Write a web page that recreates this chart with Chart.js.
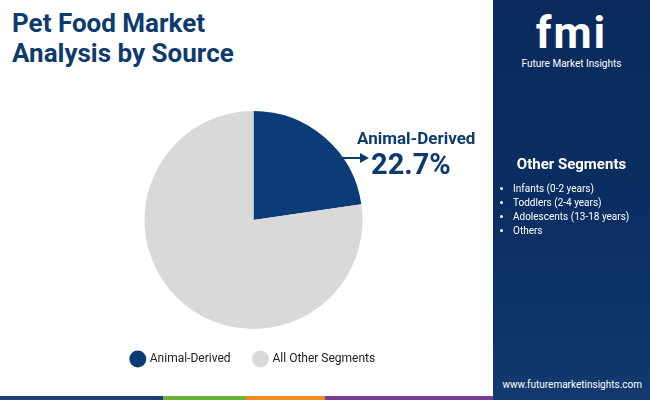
<!DOCTYPE html>
<html>
<head>
<meta charset="utf-8">
<script src="https://cdn.jsdelivr.net/npm/chart.js@4.4.0/dist/chart.umd.min.js"></script>
<style>
  body { margin: 0; width: 650px; height: 400px; overflow: hidden; font-family: Roboto, sans-serif; background: #fff; position: relative; }
  #title { position: absolute; left: 12px; top: 8px; color: #0d3b6e; font-weight: 700; font-size: 26px; line-height: 30px; }
  #chartBox { position: absolute; left: 0; top: 95px; width: 493px; height: 280px; }
  #side { position: absolute; left: 493px; top: 0; width: 157px; height: 400px; background: linear-gradient(180deg, #0a2a5c 0%, #0b2f63 60%, #123a70 100%); color: #fff; }
  #logo { position: absolute; left: 0; width: 157px; top: 8px; text-align: center; }
  #logo .big { font-size: 44px; font-weight: 700; letter-spacing: 2px; line-height: 50px; }
  #logo .small { font-size: 10px; }
  #segTitle { position: absolute; top: 155px; left: 0; width: 157px; text-align: center; font-weight: 700; font-size: 15px; }
  #segList { position: absolute; top: 182px; left: 8px; font-size: 10px; line-height: 14px; margin: 0; padding-left: 12px; }
  #url { position: absolute; bottom: 10px; right: 8px; font-size: 10px; }
  #label { position: absolute; left: 357px; top: 128px; color: #0d3b6e; font-weight: 700; }
  #label .a { font-size: 17px; }
  #label .b { font-size: 29px; margin-left: 14px; line-height: 32px; }
  #strip { position: absolute; left: 0; bottom: 0; width: 493px; height: 4px; background: linear-gradient(90deg, #1b3f7a 0 33%, #6bb33a 33% 50%, #f08a24 50% 66%, #7a3d91 66% 100%); }
</style>
</head>
<body>
<div id="title">Pet Food Market<br>Analysis by Source</div>
<div id="chartBox"><canvas id="pieChart"></canvas></div>
<div id="label"><div class="a">Animal-Derived</div><div class="b">22.7%</div></div>
<div id="side">
  <div id="logo"><div class="big">fmi</div><div class="small">Future Market Insights</div></div>
  <div id="segTitle">Other Segments</div>
  <ul id="segList">
    <li>Infants (0-2 years)</li>
    <li>Toddlers (2-4 years)</li>
    <li>Adolescents (13-18 years)</li>
    <li>Others</li>
  </ul>
  <div id="url">www.futuremarketinsights.com</div>
</div>
<div id="strip"></div>
<script>
const categories = ['Animal-Derived', 'All Other Segments'];
const shares = [22.7, 77.3];
const colors = ['#0b3c78', '#d9d9d9'];

// arrow from the slice to the label
const arrowPlugin = {
  id: 'arrow',
  afterDraw(chart) {
    const ctx = chart.ctx;
    ctx.save();
    ctx.strokeStyle = '#0d3b6e';
    ctx.fillStyle = '#0d3b6e';
    ctx.lineWidth = 2;
    ctx.beginPath();
    ctx.moveTo(340, 63);
    ctx.lineTo(362, 63);
    ctx.stroke();
    ctx.beginPath();
    ctx.moveTo(369, 63);
    ctx.lineTo(360, 58);
    ctx.lineTo(360, 68);
    ctx.closePath();
    ctx.fill();
    ctx.restore();
  }
};

new Chart(document.getElementById('pieChart'), {
  type: 'pie',
  data: {
    labels: categories,
    datasets: [{ data: shares, backgroundColor: colors, borderWidth: 0 }]
  },
  options: {
    responsive: true,
    maintainAspectRatio: false,
    animation: false,
    layout: { padding: { top: 16, left: 14 } },
    plugins: {
      tooltip: { enabled: false },
      legend: {
        position: 'bottom',
        labels: {
          usePointStyle: true,
          pointStyle: 'circle',
          boxWidth: 14,
          padding: 24,
          color: '#222',
          font: { family: 'Roboto', size: 12 }
        }
      }
    }
  },
  plugins: [arrowPlugin]
});
</script>
</body>
</html>
